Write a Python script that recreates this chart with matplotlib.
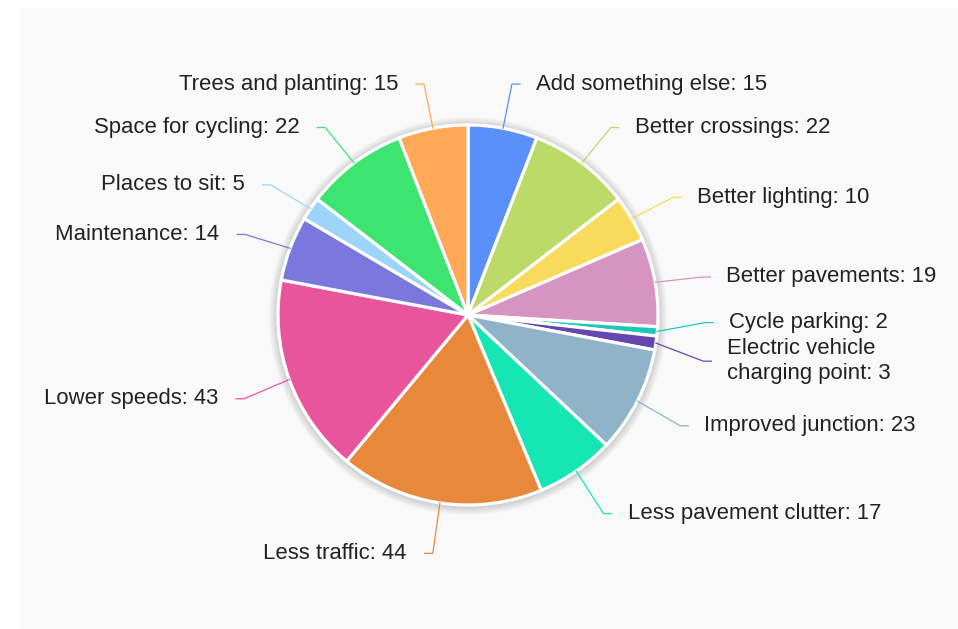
import numpy as np
import matplotlib
matplotlib.use("Agg")
import matplotlib.pyplot as plt
from matplotlib.patches import Rectangle, Circle

# ── data (clockwise from 12 o'clock) ──────────────────────────────────────
labels = [
    "Add something else", "Better crossings", "Better lighting",
    "Better pavements", "Cycle parking", "Electric vehicle\ncharging point",
    "Improved junction", "Less pavement clutter", "Less traffic",
    "Lower speeds", "Maintenance", "Places to sit", "Space for cycling",
    "Trees and planting",
]
values = [15, 22, 10, 19, 2, 3, 23, 17, 44, 43, 14, 5, 22, 15]
colors = [
    "#5B8FF9", "#BBDA68", "#F8DA5C", "#D694C0", "#1CC8B8", "#6547AE",
    "#8FB3C9", "#16E6B4", "#E8883A", "#E8559D", "#7A78DC", "#9DD4FA",
    "#3DE46F", "#FEA858",
]

# vertical nudges for crowded labels (screen px, + = down)
label_nudge = {"Cycle parking": -16, "Electric vehicle\ncharging point": 8}

W, H = 958, 629
CX, CY, R = 468, H - 315, 190
LCY = CY - 3      # label ring centre sits a touch lower
LR = R + 48

plt.rcParams["font.family"] = ["Liberation Sans", "DejaVu Sans"]

fig = plt.figure(figsize=(W / 100, H / 100), dpi=100)
fig.patch.set_facecolor("white")
ax = fig.add_axes([0, 0, 1, 1])

# grey panel
ax.add_patch(Rectangle((20, 0), W - 20, H - 8, facecolor="#F9F9F9",
                       edgecolor="none", zorder=0))

# soft shadow round the pie
for k in range(1, 10):
    ax.add_patch(Circle((CX, CY - 1), R + k, facecolor="#000000",
                        alpha=0.018, edgecolor="none", zorder=1))

wedges, _ = ax.pie(values, colors=colors, startangle=90, counterclock=False,
                   radius=R, center=(CX, CY),
                   wedgeprops=dict(edgecolor="white", linewidth=2.3, zorder=2))
for w in wedges:
    w.set_zorder(2)

for w, lab, val, col in zip(wedges, labels, values, colors):
    ang = np.deg2rad((w.theta1 + w.theta2) / 2)
    ca, sa = np.cos(ang), np.sin(ang)
    x0, y0 = CX + R * ca, CY + R * sa
    x1, y1 = CX + LR * ca, LCY + LR * sa
    y1 -= label_nudge.get(lab, 0)
    side = 1 if ca >= 0 else -1
    x2 = x1 + side * 8
    ax.plot([x0, x1, x2], [y0, y1, y1], color=col, linewidth=0.9,
            solid_joinstyle="miter", zorder=3)
    gap = 16 if side > 0 else 18
    ax.text(x2 + side * gap, y1, f"{lab}: {val}", fontsize=15.9,
            color="#222222", ha="left" if side > 0 else "right",
            va="center", linespacing=1.25, zorder=4)

ax.set_xlim(0, W)
ax.set_ylim(0, H)
ax.set_aspect("equal")
ax.axis("off")

fig.savefig("out.png", dpi=100, facecolor="white")
